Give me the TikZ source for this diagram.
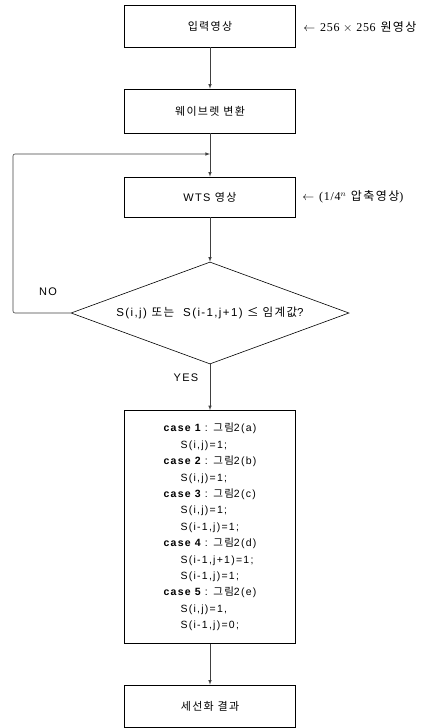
\documentclass[tikz,border=0pt]{standalone}
\usepackage{fontspec}
\setmainfont[LetterSpace=12]{Liberation Sans}
\newfontfamily\kor[LetterSpace=12]{Noto Sans CJK KR}
\newfontfamily\timesfont[LetterSpace=6]{Liberation Serif}
\newcommand{\ko}[1]{{\kor #1}}
\usetikzlibrary{shapes.geometric}

\begin{document}
\begin{tikzpicture}[x=1pt, y=-1pt, >=latex, line width=0.6pt,
  box/.style={draw, minimum width=171pt, inner sep=0pt, font=\fontsize{11}{13}\selectfont},
  decision/.style={draw, diamond, aspect=2.7, minimum width=278pt, minimum height=102pt,
    inner sep=0pt, font=\fontsize{11.5}{13}\selectfont},
  note/.style={anchor=west, inner sep=0pt, font=\fontsize{12}{14}\selectfont},
  answer/.style={font=\fontsize{11}{13}\selectfont},
  flow/.style={->, black!75}]
  \useasboundingbox (0,0) rectangle (427,728);
  % 1. Processing steps
  \node[box, minimum height=42pt] (input) at (210,26) {\ko{입력영상}};
  \node[box, minimum height=44pt] (wavelet) at (210,111) {\ko{웨이브렛 변환}};
  \node[box, minimum height=40pt] (wts) at (210,197) {WTS \ko{영상}};
  % 2. Threshold test
  \node[decision] (test) at (210,313) {S(i,j) \ko{또는}\ \ S(i-1,j+1) \ko{≤ 임계값}?};
  % 3. Cases
  \node[box, minimum height=233pt, align=left, font=\fontsize{10.5}{16.4}\selectfont] (cases) at (210,527) {%
    {\bfseries case 1} : \ko{그림}2(a)\\
    \hspace*{17pt}S(i,j)=1;\\
    {\bfseries case 2} : \ko{그림}2(b)\\
    \hspace*{17pt}S(i,j)=1;\\
    {\bfseries case 3} : \ko{그림}2(c)\\
    \hspace*{17pt}S(i,j)=1;\\
    \hspace*{17pt}S(i-1,j)=1;\\
    {\bfseries case 4} : \ko{그림}2(d)\\
    \hspace*{17pt}S(i-1,j+1)=1;\\
    \hspace*{17pt}S(i-1,j)=1;\\
    {\bfseries case 5} : \ko{그림}2(e)\\
    \hspace*{17pt}S(i,j)=1,\\
    \hspace*{17pt}S(i-1,j)=0;};
  \node[box, minimum height=42pt] (result) at (210,706) {\ko{세선화 결과}};
  % 4. Side notes
  \node[note] (size) at (303,27) {$\leftarrow$ {\timesfont 256 $\times$ 256} \ko{원영상}};
  \node[note] (ratio) at (302,197) {$\leftarrow$ {\timesfont (1/4$^{n}$} \ko{압축영상}{\timesfont )}};
  % 5. Branch labels
  \node[answer] (no) at (48,292) {NO};
  \node[answer] (yes) at (186,378) {YES};
  % 6. Connectors
  \coordinate (merge) at (210,154);
  \coordinate (loop) at (13,313);
  \draw[flow] (input) -- (wavelet);
  \draw[flow] (wavelet) -- (wts);
  \draw[flow] (wts) -- (test);
  \draw[flow, rounded corners=2pt] (test.west) -- (loop) -- (loop |- merge) -- (merge);
  \draw[flow] (test) -- (cases);
  \draw[flow] (cases) -- (result);
\end{tikzpicture}
\end{document}
